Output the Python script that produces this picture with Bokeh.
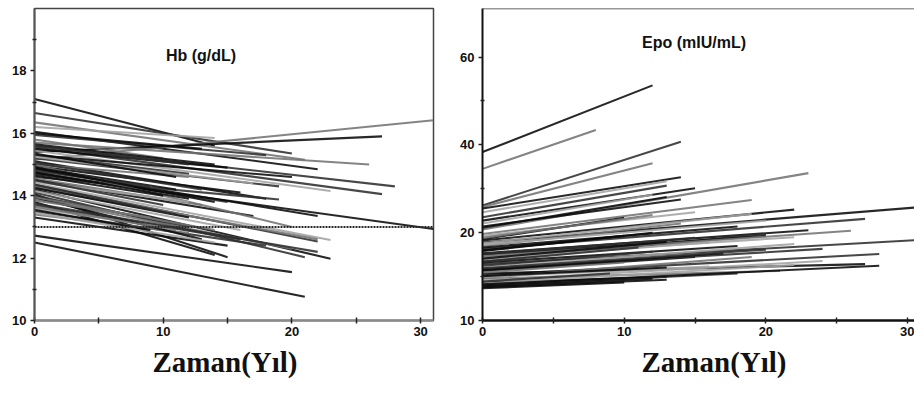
from bokeh.plotting import figure
from bokeh.models import (ColumnDataSource, Range1d, FixedTicker, Label, Span, Title)
from bokeh.layouts import row
from bokeh.embed import file_html
from bokeh.resources import INLINE

# ---------------- data: Hb (g/dL) individual trend lines ----------------
# each line starts at year 0 with value hb_start and ends at hb_end_t with hb_end
hb_start = [17.1, 16.65, 16.35, 16.2, 16.05, 15.95, 15.15, 15.4, 15.7, 15.6,
            15.55, 15.45, 15.3, 15.2, 15.1, 15.0, 14.95, 14.85, 14.75, 14.7,
            14.6, 14.55, 14.5, 14.4, 14.35, 14.3, 14.2, 14.1, 14.05, 14.0,
            13.9, 13.8, 13.7, 13.6, 13.5, 13.4, 13.3, 12.72, 12.5, 15.8,
            15.65, 15.3, 15.0, 14.9, 14.45, 14.25, 14.15, 13.95, 13.65, 13.45,
            14.8, 15.5, 15.25, 16.0, 14.65, 13.85, 13.75, 15.35, 15.05, 14.75,
            14.5, 14.25, 13.95, 13.55, 15.6, 14.9, 14.35, 13.2]
hb_end_t = [14, 20, 21, 14, 22, 18, 31, 27, 26, 28,
            27, 23, 20, 19, 18, 12, 16, 22, 15, 31,
            19, 13, 17, 23, 22, 14, 23, 21, 15, 12,
            20, 14, 16, 10, 18, 12, 15, 20, 21, 10,
            14, 12, 20, 11, 12, 22, 16, 13, 11, 14,
            9, 15, 17, 13, 10, 9, 22, 11, 13, 12,
            10, 12, 14, 9, 12, 14, 11, 8]
hb_end = [15.6, 15.35, 15.15, 15.85, 14.85, 15.3, 16.42, 15.9, 15.0, 14.3,
          14.05, 14.15, 14.6, 14.3, 13.9, 14.6, 14.1, 13.35, 13.8, 12.93,
          13.88, 13.7, 13.35, 12.58, 12.53, 13.2, 11.98, 12.03, 12.03, 13.0,
          12.3, 12.1, 12.6, 13.0, 12.4, 12.8, 12.4, 11.55, 10.76, 15.2,
          15.0, 14.7, 13.0, 14.2, 13.8, 12.6, 12.9, 12.6, 12.9, 12.5,
          14.3, 14.9, 14.4, 15.5, 14.0, 13.3, 12.2, 14.6, 14.2, 13.9,
          13.7, 13.3, 12.9, 12.9, 15.0, 13.8, 13.4, 12.8]
hb_reference = 13.0

# ---------------- data: Epo (mIU/mL) individual trend lines ----------------
epo_start = [37.8, 33.1, 24.8, 24.5, 24.2, 23.5, 22.0, 22.6, 20.5, 21.5,
             19.8, 20.8, 18.8, 18.5, 19.5, 19.0, 17.6, 17.0, 16.5, 16.0,
             18.0, 17.3, 15.6, 16.8, 15.2, 14.3, 14.5, 15.8, 13.9, 13.5,
             13.4, 14.0, 14.8, 13.2, 13.0, 15.4, 16.2, 14.6, 13.7, 17.8,
             16.6, 15.0, 18.2, 13.3, 14.1, 19.2, 21.0, 12.9, 18.4, 16.9,
             14.2, 15.9, 14.9, 13.6, 17.4, 16.3, 15.1, 13.1]
epo_end_t = [12, 8, 14, 12, 14, 13, 15, 13, 23, 12,
             19, 13, 22, 31, 15, 10, 27, 23, 22, 20,
             14, 12, 31, 20, 22, 28, 27, 18, 21, 13,
             22, 19, 15, 18, 13, 12, 16, 10, 24, 18,
             26, 24, 20, 28, 16, 12, 14, 10, 19, 15,
             13, 11, 17, 9, 10, 13, 20, 12]
epo_end = [64.0, 45.0, 41.0, 34.6, 31.0, 30.0, 28.4, 29.0, 32.0, 27.0,
           25.9, 26.5, 24.0, 24.5, 23.5, 22.5, 22.3, 20.4, 19.3, 19.8,
           21.5, 20.0, 18.9, 19.5, 18.3, 16.9, 15.6, 18.0, 14.8, 14.1,
           15.5, 16.5, 16.5, 14.5, 13.8, 17.2, 18.5, 15.8, 16.0, 21.0,
           20.3, 17.6, 22.0, 15.4, 15.3, 23.0, 26.0, 13.5, 23.2, 19.2,
           15.2, 17.8, 17.0, 14.5, 19.5, 18.6, 17.5, 13.9]

x_ticks = [0, 10, 20, 30]
x_minor = [5, 15, 25]
hb_ticks = [10, 12, 14, 16, 18]
hb_minor = [11, 13, 15, 17, 19]
epo_ticks = [10, 20, 40, 80]
epo_tick_labels = {10: "10", 20: "20", 40: "40", 80: "60"}
epo_minor = [14.1, 28.3, 56.6]
x_title = "Zaman(Yıl)"

# ---------------- styles (kept separate from the data) ----------------
tone_hb = ("kdglk dgkgd dlkdk gkkdk dgkld gkdkd gkdld gkkkg "
           "kdgkl glkgl dklkk gdkdk dkgkd kd").replace(" ", "")
tone_epo = ("kgdgk lkdgl gkkkl kdkld gkdkl dkkgk lgkdk dlglk "
            "gdlkl gkkld kdkdk kdk").replace(" ", "")
shade = {"k": "#0a0a0a", "d": "#2e2e2e", "g": "#737373", "l": "#a3a3a3"}

tick_font = "Liberation Sans"
title_font = "Liberation Sans"


def style_axes(p):
    for ax in (p.xaxis[0], p.yaxis[0]):
        ax.major_label_text_font = tick_font
        ax.major_label_text_font_size = "13px"
        ax.major_label_text_font_style = "bold"
        ax.major_label_text_color = "#111111"
        ax.major_tick_line_color = "#222222"
        ax.minor_tick_line_color = "#222222"
        ax.major_tick_line_width = 1.5
        ax.minor_tick_line_width = 1.5
    p.xaxis.major_tick_in = 3
    p.xaxis.major_tick_out = 3
    p.xaxis.minor_tick_in = 3
    p.xaxis.minor_tick_out = 3
    p.xaxis.major_label_standoff = 3
    p.yaxis.major_tick_in = 0
    p.yaxis.major_tick_out = 4
    p.yaxis.minor_tick_in = 2
    p.yaxis.minor_tick_out = 2
    p.yaxis.major_label_standoff = 4
    p.xgrid.visible = False
    p.ygrid.visible = False


def add_x_title(p, left_offset):
    p.add_layout(Title(text=x_title, align="left", offset=left_offset, standoff=11,
                       text_font="Liberation Serif", text_font_style="bold",
                       text_font_size="29px", text_color="#111111"), "below")


# ---------------- left panel: Hb ----------------
p1 = figure(width=457, height=392, x_range=Range1d(0, 31), y_range=Range1d(10, 20.0),
            output_backend="svg", toolbar_location=None,
            min_border_left=34, min_border_right=24, min_border_top=5, min_border_bottom=72)
p1.outline_line_color = "#444444"
p1.outline_line_width = 1.5
p1.background_fill_color = "white"
p1.border_fill_color = "white"

hb_src = ColumnDataSource(dict(y0=hb_start, t1=hb_end_t, y1=hb_end,
                               color=[shade[t] for t in tone_hb[:len(hb_start)]]))
p1.segment(x0=0, y0="y0", x1="t1", y1="y1", source=hb_src,
           line_color="color", line_width=2.1, line_alpha=0.88)
p1.segment(x0=0, y0=hb_reference, x1=31, y1=hb_reference,
           line_color="#2a2a2a", line_width=2, line_dash="2 1")

p1.xaxis.ticker = FixedTicker(ticks=x_ticks, minor_ticks=x_minor)
p1.yaxis.ticker = FixedTicker(ticks=hb_ticks, minor_ticks=hb_minor)
style_axes(p1)
p1.xaxis.axis_line_color = "#8a8a8a"
p1.xaxis.axis_line_width = 2.5
p1.yaxis.axis_line_color = "#555555"
p1.yaxis.axis_line_width = 2

p1.add_layout(Label(x=12.94, y=18.5, text="Hb (g/dL)", text_align="center",
                    text_baseline="middle", text_font=title_font, text_font_style="bold",
                    text_font_size="16px", text_color="#111111"))
add_x_title(p1, 118)

# ---------------- right panel: Epo ----------------
epo_top = 117.4
p2 = figure(width=457, height=392, x_range=Range1d(0, 30.49), y_range=Range1d(10, epo_top),
            y_axis_type="log", output_backend="svg", toolbar_location=None,
            min_border_left=24, min_border_right=0, min_border_top=8, min_border_bottom=72)
p2.outline_line_color = None
p2.background_fill_color = "white"
p2.border_fill_color = "white"

epo_src = ColumnDataSource(dict(y0=epo_start, t1=epo_end_t, y1=epo_end,
                                color=[shade[t] for t in tone_epo[:len(epo_start)]]))
p2.segment(x0=0, y0="y0", x1="t1", y1="y1", source=epo_src,
           line_color="color", line_width=2.1, line_alpha=0.88)

p2.xaxis.ticker = FixedTicker(ticks=x_ticks, minor_ticks=x_minor)
p2.yaxis.ticker = FixedTicker(ticks=epo_ticks, minor_ticks=epo_minor)
p2.yaxis.major_label_overrides = epo_tick_labels
style_axes(p2)
p2.xaxis.axis_line_color = "#111111"
p2.xaxis.axis_line_width = 2.5
p2.yaxis.axis_line_color = "#111111"
p2.yaxis.axis_line_width = 2
p2.add_layout(Span(location=epo_top, dimension="width", line_color="#333333", line_width=1.5))

p2.add_layout(Label(x=14.93, y=89.8, text="Epo (mIU/mL)", text_align="center",
                    text_baseline="middle", text_font=title_font, text_font_style="bold",
                    text_font_size="16px", text_color="#111111"))
add_x_title(p2, 159)

layout = row(p1, p2)
open("out.html", "w").write(file_html(layout, INLINE))
